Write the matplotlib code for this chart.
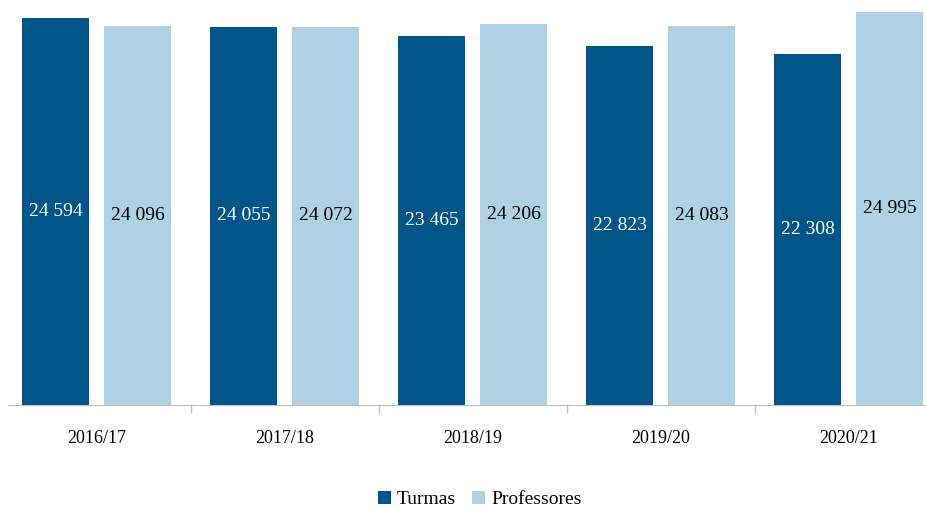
import numpy as np
import matplotlib
matplotlib.use("Agg")
import matplotlib.pyplot as plt

years = ["2016/17", "2017/18", "2018/19", "2019/20", "2020/21"]
turmas = [24594, 24055, 23465, 22823, 22308]
professores = [24096, 24072, 24206, 24083, 24995]

DARK = "#005688"
LIGHT = "#aed2e3"

plt.rcParams['font.family'] = ['Liberation Serif', 'DejaVu Serif']

fig = plt.figure(figsize=(9.26, 5.08), dpi=100)
ax = fig.add_axes([2.5 / 926, 103 / 508, 940 / 926, 393 / 508])

x = np.arange(len(years))
w = 0.357
off = 0.218
b1 = ax.bar(x - off, turmas, w, color=DARK, label="Turmas")
b2 = ax.bar(x + off, professores, w, color=LIGHT, label="Professores")


def fmt(v):
    return "{:,}".format(v).replace(",", " ")


for rect, v in zip(b1, turmas):
    ax.text(rect.get_x() + rect.get_width() / 2, v / 2, fmt(v),
            ha="center", va="center", color="white", fontsize=14)
for rect, v in zip(b2, professores):
    ax.text(rect.get_x() + rect.get_width() / 2, v / 2, fmt(v),
            ha="center", va="center", color="black", fontsize=14)

ax.set_xlim(-0.5, len(years) - 0.5)
ax.set_ylim(0, 25000)
ax.set_xticks(x)
ax.set_xticklabels(years, fontsize=13)
ax.set_xticks(np.arange(1, len(years) + 1) - 0.5, minor=True)
ax.tick_params(axis="x", which="major", length=0, pad=18)
ax.tick_params(axis="x", which="minor", length=6, color="#bfbfbf", width=1)
ax.set_yticks([])
for s in ["top", "right", "left"]:
    ax.spines[s].set_visible(False)
ax.spines["bottom"].set_color("#bfbfbf")
ax.spines["bottom"].set_bounds(-0.47, len(years) - 0.5)

fig.legend(loc="lower center", bbox_to_anchor=(0.518, -0.035), ncol=2,
           frameon=False, fontsize=14, handlelength=0.7, handleheight=0.7,
           handletextpad=0.3, columnspacing=0.8)

fig.savefig("out.png", dpi=100)
